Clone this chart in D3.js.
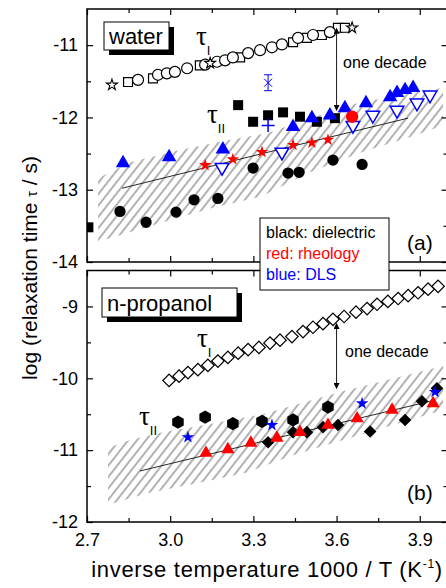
<!DOCTYPE html>
<html>
<head>
<meta charset="utf-8">
<script src="https://cdn.jsdelivr.net/npm/d3@7"></script>
<style>
  body { margin: 0; background: #fff; }
  text { font-family: Arial, "Liberation Sans", sans-serif; }
</style>
</head>
<body>
<div class="chart"></div>
<script>
// ---------- data (1000/T in 1/K, log10 tau in s) ----------
// water, tau_I (open symbols)
var waterTauICircles = [[2.884,-11.48],[2.956,-11.41],[2.988,-11.39],[3.017,-11.37],[3.061,-11.32],[3.126,-11.27],
  [3.169,-11.23],[3.198,-11.21],[3.226,-11.17],[3.281,-11.11],[3.324,-11.07],[3.367,-11.03],[3.403,-10.99],
  [3.461,-10.90],[3.515,-10.86],[3.576,-10.82]];
var waterTauISquares = [[2.848,-11.51],[2.938,-11.46],[3.107,-11.28],[3.252,-11.17],[3.443,-10.96],[3.493,-10.90],
  [3.547,-10.86],[3.605,-10.76],[3.630,-10.76]];
var waterTauIStars = [[2.790,-11.55],[3.144,-11.25],[3.656,-10.76]];

// water, tau_II
var waterDielSquares = [[2.705,-13.52],[3.245,-11.83],[3.299,-12.06],[3.353,-11.97],[3.407,-11.93],[3.468,-11.99],
  [3.529,-12.06],[3.594,-12.01]];
var waterDielCircles = [[2.819,-13.30],[2.913,-13.45],[3.021,-13.31],[3.086,-13.14],[3.172,-13.12],[3.299,-12.70],
  [3.425,-12.77],[3.465,-12.76],[3.587,-12.59],[3.692,-12.65]];
var waterRheoStars = [[3.126,-12.66],[3.226,-12.58],[3.331,-12.48],[3.443,-12.38],[3.511,-12.35],[3.569,-12.31]];
var waterRheoCircles = [[3.656,-11.99]];
var waterDlsTriangles = [[2.830,-12.63],[2.996,-12.55],[3.190,-12.44],[3.443,-12.13],[3.511,-12.01],[3.576,-11.97],
  [3.630,-11.87],[3.706,-11.80],[3.793,-11.72],[3.818,-11.66],[3.847,-11.62],[3.876,-11.59]];
var waterDlsTrianglesDown = [[3.187,-12.69],[3.403,-12.48],[3.659,-12.11],[3.731,-11.97],[3.818,-11.90],
  [3.890,-11.80],[3.937,-11.69]];
var waterDlsCross = [[3.353,-12.11]];
var waterDlsErrX = [[3.353,-11.52,0.11]];

var waterTrendX = [2.826, 3.396, 3.858];
var waterTrendY = [-12.98, -12.44, -12.01];
var waterBandTopX = [2.740, 2.855, 3.035, 3.216, 3.349, 3.504, 3.685, 3.984];
var waterBandTopY = [-12.84, -12.62, -12.45, -12.31, -12.22, -12.01, -11.79, -11.59];
var waterBandBotX = [2.740, 2.974, 3.154, 3.324, 3.504, 3.685, 3.865, 3.984];
var waterBandBotY = [-13.72, -13.45, -13.25, -13.10, -12.76, -12.49, -12.27, -12.11];

// n-propanol, tau_I (open diamonds)
var propTauIX = [2.996,3.032,3.064,3.100,3.136,3.172,3.208,3.245,3.281,3.320,3.360,3.396,3.439,3.479,
  3.515,3.551,3.587,3.627,3.670,3.710,3.746,3.785,3.822,3.858,3.894,3.930,3.966];
var propTauIY = [-10.03,-9.97,-9.92,-9.88,-9.82,-9.76,-9.71,-9.65,-9.60,-9.57,-9.51,-9.47,-9.42,-9.35,
  -9.29,-9.24,-9.18,-9.14,-9.08,-9.03,-8.97,-8.93,-8.89,-8.85,-8.81,-8.76,-8.72];

// n-propanol, tau_II
var propDielHexagons = [[3.028,-10.61],[3.126,-10.54],[3.226,-10.63],[3.331,-10.60],[3.443,-10.58],[3.569,-10.40]];
var propDielDiamonds = [[3.353,-10.89],[3.443,-10.75],[3.493,-10.75],[3.551,-10.68],[3.605,-10.65],[3.721,-10.74],
  [3.847,-10.58],[3.908,-10.32],[3.962,-10.14]];
var propRheoTriangles = [[3.129,-11.04],[3.208,-10.99],[3.291,-10.90],[3.385,-10.83],[3.468,-10.75],[3.569,-10.65],
  [3.674,-10.56],[3.800,-10.44],[3.948,-10.35]];
var propDlsStars = [[3.064,-10.82],[3.367,-10.65],[3.692,-10.35],[3.955,-10.19]];

var propTrendX = [2.891, 3.396, 3.948];
var propTrendY = [-11.29, -10.82, -10.31];
var propBandTopX = [2.776, 2.855, 2.974, 3.154, 3.335, 3.612, 3.890, 3.984];
var propBandTopY = [-10.97, -10.86, -10.75, -10.63, -10.50, -10.19, -9.92, -9.83];
var propBandBotX = [2.776, 2.916, 3.097, 3.277, 3.443, 3.623, 3.803, 3.984];
var propBandBotY = [-11.76, -11.60, -11.46, -11.31, -11.07, -10.86, -10.65, -10.44];

// "one decade" arrows [x, from, to]
var waterDecade = [3.6, -10.77, -11.90];
var propDecade = [3.6, -9.24, -10.14];

// ticks
var xMajor = [2.7, 3.0, 3.3, 3.6, 3.9];
var xMinor = [2.85, 3.15, 3.45, 3.75];
var waterYMajor = [-11, -12, -13, -14];
var waterYMinor = [-11.5, -12.5, -13.5];
var propYMajor = [-9, -10, -11, -12];
var propYMinor = [-9.5, -10.5, -11.5];

// ---------- chart ----------
var svgWidth = 446;
var svgHeight = 588;
var BLUE = "#0000ff", RED = "#ff0000";

var svg = d3.select(".chart")
  .append("svg")
  .attr("width", svgWidth)
  .attr("height", svgHeight);

var xScale = d3.scaleLinear().domain([2.7, 4.0]).range([87, 447.5]);
var yTop = d3.scaleLinear().domain([-14, -10.5]).range([262, 9]);
var yBot = d3.scaleLinear().domain([-12, -8.5]).range([522, 270.5]);

var defs = svg.append("defs");

// hatch pattern for the shaded bands
defs.append("pattern")
  .attr("id", "hatch")
  .attr("patternUnits", "userSpaceOnUse")
  .attr("width", 7)
  .attr("height", 10)
  .attr("patternTransform", "rotate(38)")
  .append("line")
  .attr("x1", 1).attr("y1", 0)
  .attr("x2", 1).attr("y2", 10)
  .attr("stroke", "#222")
  .attr("stroke-width", 0.7);

// arrow head
defs.append("marker")
  .attr("id", "arrow")
  .attr("viewBox", "0 0 8 8")
  .attr("refX", 7).attr("refY", 4)
  .attr("markerWidth", 6).attr("markerHeight", 6)
  .attr("markerUnits", "userSpaceOnUse")
  .attr("orient", "auto-start-reverse")
  .append("path")
  .attr("d", "M0,0L8,4L0,8z")
  .attr("fill", "#000");

[["clipTop", yTop], ["clipBot", yBot]].forEach(function(c) {
  var r = c[1].range();
  defs.append("clipPath").attr("id", c[0])
    .append("rect")
    .attr("x", xScale.range()[0])
    .attr("y", r[1])
    .attr("width", xScale.range()[1] - xScale.range()[0])
    .attr("height", r[0] - r[1]);
});

// custom symbols
var symbolHexagon = {
  draw: function(context, size) {
    var r = Math.sqrt(size / (1.5 * Math.sqrt(3)));
    for (var i = 0; i < 6; i++) {
      var a = Math.PI / 3 * i - Math.PI / 2;
      if (i === 0) context.moveTo(r * Math.cos(a), r * Math.sin(a));
      else context.lineTo(r * Math.cos(a), r * Math.sin(a));
    }
    context.closePath();
  }
};
var symbolPlus = {
  draw: function(context, size) {
    var r = Math.sqrt(size) / 2;
    context.moveTo(-r, 0); context.lineTo(r, 0);
    context.moveTo(0, -r); context.lineTo(0, r);
  }
};

function drawPoints(g, data, y, o) {
  g.selectAll(null)
    .data(data)
    .enter()
    .append("path")
    .attr("transform", d => `translate(${xScale(d[0])},${y(d[1])}) rotate(${o.rotate || 0})`)
    .attr("d", d3.symbol().type(o.type).size(o.size))
    .attr("fill", o.fill)
    .attr("stroke", o.stroke || "none")
    .attr("stroke-width", o.sw || 1);
}

function drawBand(g, topX, topY, botX, botY, y) {
  var pts = topX.map((v, i) => [v, topY[i]])
    .concat(botX.map((v, i) => [v, botY[i]]).reverse());
  g.append("path")
    .attr("d", d3.line().x(d => xScale(d[0])).y(d => y(d[1]))(pts) + "Z")
    .attr("fill", "url(#hatch)")
    .attr("stroke", "none");
}

function drawTrend(g, xs, ys, y) {
  g.append("path")
    .attr("d", d3.line().x(d => xScale(d[0])).y(d => y(d[1]))(xs.map((v, i) => [v, ys[i]])))
    .attr("fill", "none")
    .attr("stroke", "#111")
    .attr("stroke-width", 0.9);
}

function drawDecade(g, a, y) {
  g.append("line")
    .attr("x1", xScale(a[0])).attr("x2", xScale(a[0]))
    .attr("y1", y(a[1])).attr("y2", y(a[2]))
    .attr("stroke", "#000")
    .attr("stroke-width", 0.9)
    .attr("marker-start", "url(#arrow)")
    .attr("marker-end", "url(#arrow)");
}

// frame with inward ticks on all four sides
function drawFrame(y, yMajor, yMinor, withXLabels) {
  var x0 = xScale.range()[0], x1 = xScale.range()[1];
  var yb = y.range()[0], yt = y.range()[1];
  var frame = svg.append("g");

  function style(sel) {
    sel.select(".domain").remove();
    sel.selectAll("line").attr("stroke", "#000").attr("stroke-width", 1.2);
    sel.attr("font-size", 18).attr("font-family", "Arial, 'Liberation Sans', sans-serif");
  }
  var sides = [
    [() => d3.axisLeft(y), `translate(${x0},0)`, yMajor, yMinor, true, true],
    [() => d3.axisRight(y), `translate(${x1},0)`, yMajor, yMinor, false, true],
    [() => d3.axisTop(xScale), `translate(0,${yt})`, xMajor, xMinor, false, false],
    [() => d3.axisBottom(xScale), `translate(0,${yb})`, xMajor, xMinor, withXLabels, false]
  ];
  sides.forEach(function(s) {
    var isY = s[5];
    var fmt = s[4] ? (isY ? (d => String(d)) : d3.format(".1f")) : "";
    frame.append("g")
      .attr("transform", s[1])
      .call(s[0]().tickValues(s[2]).tickSizeInner(-6).tickSizeOuter(0)
        .tickPadding(isY ? 9 : 11).tickFormat(fmt))
      .call(style);
    frame.append("g")
      .attr("transform", s[1])
      .call(s[0]().tickValues(s[3]).tickSizeInner(-4).tickSizeOuter(0).tickFormat(""))
      .call(style);
  });

  frame.append("rect")
    .attr("x", x0).attr("y", yt)
    .attr("width", x1 - x0).attr("height", yb - yt)
    .attr("fill", "none")
    .attr("stroke", "#000")
    .attr("stroke-width", 1.5);
}

// label box with drop shadow
function drawNameBox(x, y, w, h, label) {
  svg.append("rect").attr("x", x + 5).attr("y", y + 5).attr("width", w).attr("height", h).attr("fill", "#000");
  svg.append("rect").attr("x", x).attr("y", y).attr("width", w).attr("height", h)
    .attr("fill", "#fff").attr("stroke", "#000").attr("stroke-width", 1);
  svg.append("text").attr("x", x + 5).attr("y", y + h - 6).attr("font-size", 22).text(label);
}

function tauLabel(x, y, sub) {
  var t = svg.append("text").attr("x", x).attr("y", y);
  t.append("tspan").attr("font-family", "'Liberation Serif', serif").attr("font-size", 27).text("τ");
  t.append("tspan").attr("font-size", 13).attr("dy", 10).text(sub);
}

// ---------- panel (a): water ----------
var gA = svg.append("g").attr("clip-path", "url(#clipTop)");
drawBand(gA, waterBandTopX, waterBandTopY, waterBandBotX, waterBandBotY, yTop);
drawTrend(gA, waterTrendX, waterTrendY, yTop);

drawPoints(gA, waterTauISquares, yTop, { type: d3.symbolSquare, size: 80, fill: "#fff", stroke: "#000", sw: 1.2 });
drawPoints(gA, waterTauICircles, yTop, { type: d3.symbolCircle, size: 95, fill: "#fff", stroke: "#000", sw: 1.2 });
drawPoints(gA, waterTauIStars, yTop, { type: d3.symbolStar, size: 38, fill: "#fff", stroke: "#000", sw: 1.1 });

drawPoints(gA, waterDielCircles, yTop, { type: d3.symbolCircle, size: 100, fill: "#000" });
drawPoints(gA, waterDielSquares, yTop, { type: d3.symbolSquare, size: 100, fill: "#000" });
drawPoints(gA, waterDlsTriangles, yTop, { type: d3.symbolTriangle, size: 90, fill: BLUE });
drawPoints(gA, waterDlsTrianglesDown, yTop, { type: d3.symbolTriangle, size: 80, fill: "#fff", stroke: BLUE, sw: 1.5, rotate: 180 });
drawPoints(gA, waterRheoStars, yTop, { type: d3.symbolStar, size: 48, fill: RED });
drawPoints(gA, waterRheoCircles, yTop, { type: d3.symbolCircle, size: 120, fill: RED });
drawPoints(gA, waterDlsCross, yTop, { type: symbolPlus, size: 170, fill: "none", stroke: BLUE, sw: 1.5 });

// blue X with error bar
gA.selectAll(null)
  .data(waterDlsErrX)
  .enter()
  .append("path")
  .attr("d", function(d) {
    var cx = xScale(d[0]), cy = yTop(d[1]), t = yTop(d[1] + d[2]), b = yTop(d[1] - d[2]);
    return `M${cx},${t}V${b}M${cx - 4},${t}H${cx + 4}M${cx - 4},${b}H${cx + 4}` +
      `M${cx - 4},${cy - 4}L${cx + 4},${cy + 4}M${cx - 4},${cy + 4}L${cx + 4},${cy - 4}`;
  })
  .attr("fill", "none")
  .attr("stroke", BLUE)
  .attr("stroke-width", 1);

drawDecade(svg, waterDecade, yTop);

// ---------- panel (b): n-propanol ----------
var gB = svg.append("g").attr("clip-path", "url(#clipBot)");
drawBand(gB, propBandTopX, propBandTopY, propBandBotX, propBandBotY, yBot);
drawTrend(gB, propTrendX, propTrendY, yBot);

drawPoints(gB, propTauIX.map((v, i) => [v, propTauIY[i]]), yBot,
  { type: d3.symbolSquare, size: 78, fill: "#fff", stroke: "#000", sw: 1.2, rotate: 45 });
drawPoints(gB, propDielHexagons, yBot, { type: symbolHexagon, size: 115, fill: "#000" });
drawPoints(gB, propDielDiamonds, yBot, { type: d3.symbolSquare, size: 80, fill: "#000", rotate: 45 });
drawPoints(gB, propRheoTriangles, yBot, { type: d3.symbolTriangle, size: 75, fill: RED });
drawPoints(gB, propDlsStars, yBot, { type: d3.symbolStar, size: 50, fill: BLUE });

drawDecade(svg, propDecade, yBot);

// ---------- frames & axes ----------
drawFrame(yTop, waterYMajor, waterYMinor, false);
drawFrame(yBot, propYMajor, propYMinor, true);

// ---------- annotations ----------
drawNameBox(104, 22, 65, 28, "water");
drawNameBox(102, 288, 135, 29, "n-propanol");

tauLabel(196, 45, "I");
tauLabel(207, 123, "II");
tauLabel(197, 347, "I");
tauLabel(139, 425, "II");

svg.append("text").attr("x", 343).attr("y", 68).attr("font-size", 16).text("one decade");
svg.append("text").attr("x", 345).attr("y", 357).attr("font-size", 16).text("one decade");

svg.append("text").attr("x", 407).attr("y", 250).attr("font-size", 21).text("(a)");
svg.append("text").attr("x", 407).attr("y", 500).attr("font-size", 21).text("(b)");

// legend
var legend = svg.append("g");
legend.append("rect")
  .attr("x", 260).attr("y", 218)
  .attr("width", 129).attr("height", 72)
  .attr("fill", "#fff").attr("stroke", "#000").attr("stroke-width", 1);
[["black: dielectric", "#000"], ["red: rheology", RED], ["blue: DLS", BLUE]].forEach(function(l, i) {
  legend.append("text")
    .attr("x", 266).attr("y", 238 + i * 21)
    .attr("font-size", 16)
    .attr("fill", l[1])
    .text(l[0]);
});

// axis titles
var xTitle = svg.append("text")
  .attr("x", 267).attr("y", 577)
  .attr("text-anchor", "middle")
  .attr("font-size", 22)
  .attr("letter-spacing", 0.7);
xTitle.append("tspan").text("inverse temperature 1000 / T (K");
xTitle.append("tspan").attr("font-size", 12).attr("dy", -9).text("-1");
xTitle.append("tspan").attr("dy", 9).text(")");

var yTitle = svg.append("text")
  .attr("transform", "translate(37,268) rotate(-90)")
  .attr("text-anchor", "middle")
  .attr("font-size", 21);
yTitle.append("tspan").text("log (relaxation time ");
yTitle.append("tspan").attr("font-size", 14).text("τ");
yTitle.append("tspan").text(" / s)");
</script>
</body>
</html>
